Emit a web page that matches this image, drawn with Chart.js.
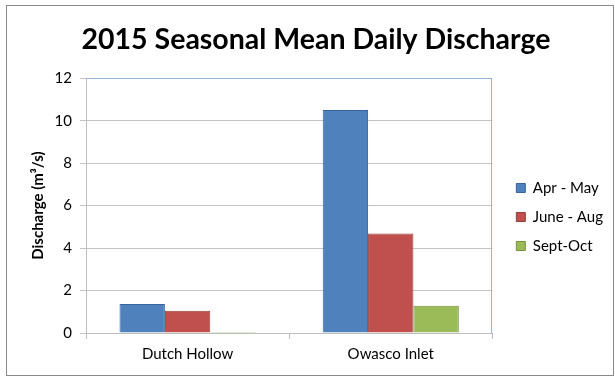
<!DOCTYPE html>
<html>
<head>
<meta charset="utf-8">
<script src="https://cdn.jsdelivr.net/npm/chart.js@4"></script>
<style>
html,body{margin:0;padding:0;background:#fff;}
#wrap{width:615px;height:377px;position:relative;}
</style>
</head>
<body>
<div id="wrap"><canvas id="c" width="615" height="377"></canvas></div>
<script>
const categories = ["Dutch Hollow", "Owasco Inlet"];
const seriesNames = ["Apr - May", "June - Aug", "Sept-Oct"];
const aprMay = [1.37, 10.5];
const juneAug = [1.05, 4.69];
const septOct = [0.05, 1.28];
const yTicks = [0, 2, 4, 6, 8, 10, 12];

const FONT = "Lato";

const borderPlugin = {
  id: 'borders',
  afterLayout(chart) {
    const lg = chart.legend;
    if (lg) {
      const dx = 10, dy = 28;
      lg.left += dx; lg.right += dx;
      lg.top += dy; lg.bottom += dy;
    }
    const tb = chart.titleBlock;
    if (tb) {
      const tx = 11;
      tb.left += tx; tb.right += tx;
    }
  },
  afterDraw(chart) {
    const ctx = chart.ctx;
    const a = chart.chartArea;
    ctx.save();
    ctx.strokeStyle = '#8a8a8a';
    ctx.lineWidth = 1;
    ctx.strokeRect(6.5, 5.5, 607, 370);
    ctx.strokeStyle = '#95B3D7';
    ctx.beginPath();
    ctx.moveTo(Math.round(a.left) + 0.5, Math.round(a.top) + 0.5);
    ctx.lineTo(Math.round(a.right) - 0.5, Math.round(a.top) + 0.5);
    ctx.lineTo(Math.round(a.right) - 0.5, Math.round(a.bottom));
    ctx.stroke();
    ctx.restore();
  }
};

new Chart(document.getElementById('c'), {
  type: 'bar',
  data: {
    labels: categories,
    datasets: [
      { label: seriesNames[0], data: aprMay, backgroundColor: '#4F81BD', borderColor: '#3A659A', borderWidth: 1 },
      { label: seriesNames[1], data: juneAug, backgroundColor: '#C0504D', borderColor: '#93403D', borderWidth: 1 },
      { label: seriesNames[2], data: septOct, backgroundColor: '#9BBB59', borderColor: '#76913F', borderWidth: 1 }
    ]
  },
  options: {
    responsive: false,
    animation: false,
    layout: { padding: { left: 7, right: 12, top: 7, bottom: 6 } },
    datasets: { bar: { barPercentage: 1.0, categoryPercentage: 0.67 } },
    plugins: {
      title: {
        display: true,
        text: '2015 Seasonal Mean Daily Discharge',
        color: '#000',
        font: { family: FONT, size: 28.5, weight: 'bold', lineHeight: 1.2 },
        padding: { top: 16, bottom: 21 }
      },
      legend: {
        position: 'right',
        align: 'center',
        labels: {
          color: '#000',
          font: { family: FONT, size: 15 },
          boxWidth: 9,
          boxHeight: 9,
          padding: 14
        }
      },
      tooltip: { enabled: false }
    },
    scales: {
      x: {
        grid: { display: true, offset: true, drawOnChartArea: false, drawTicks: true, tickLength: 6, color: '#bdbdbd' },
        border: { display: true, color: '#bdbdbd' },
        ticks: { color: '#000', font: { family: FONT, size: 15 }, padding: 6 },
        afterFit(s) { s.height = 38; }
      },
      y: {
        min: 0, max: 12,
        afterBuildTicks(s) { s.ticks = yTicks.map(v => ({ value: v })); },
        grid: { color: '#c4c4c4', tickLength: 6 },
        border: { display: true, color: '#bdbdbd' },
        ticks: { color: '#000', font: { family: FONT, size: 15 }, padding: 8 },
        title: { display: true, text: 'Discharge (m³/s)', color: '#000', font: { family: FONT, size: 15, weight: 'bold' }, padding: { top: 22, bottom: 0 } },
        afterFit(s) { s.width = 79; }
      }
    }
  },
  plugins: [borderPlugin]
});
</script>
</body>
</html>
